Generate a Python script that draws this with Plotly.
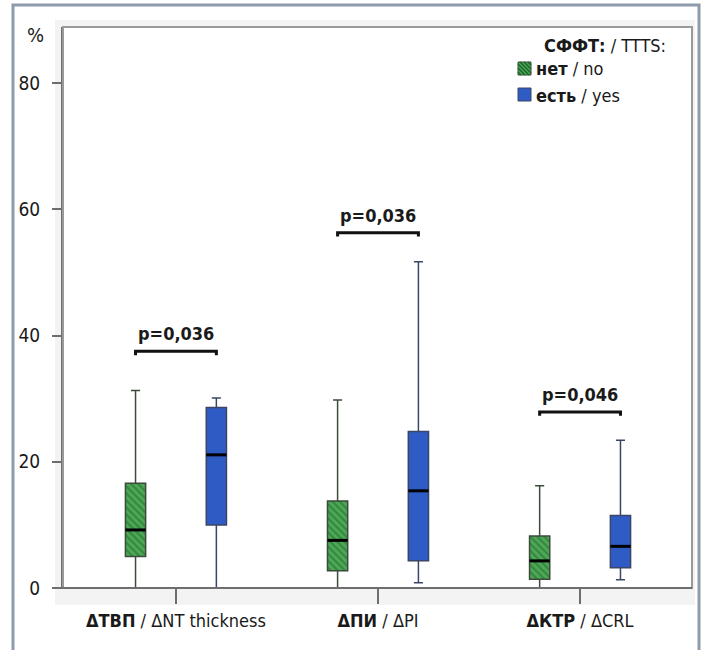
import plotly.graph_objects as go

# ---------------- data ----------------
categories = ["<b>ΔТВП</b> / ΔNT thickness", "<b>ΔПИ</b> / ΔPI", "<b>ΔКТР</b> / ΔCRL"]
cat_pos = [0, 1, 2]

green_lo = [0.0, 0.0, 0.0]
green_q1 = [5.0, 2.75, 1.4]
green_med = [9.2, 7.55, 4.3]
green_q3 = [16.6, 13.8, 8.25]
green_hi = [31.3, 29.8, 16.2]

blue_lo = [0.0, 0.85, 1.3]
blue_q1 = [10.0, 4.3, 3.2]
blue_med = [21.1, 15.4, 6.6]
blue_q3 = [28.6, 24.8, 11.5]
blue_hi = [30.1, 51.7, 23.4]

p_labels = ["p=0,036", "p=0,036", "p=0,046"]
bracket_y = [37.5, 56.3, 27.9]

y_ticks = [0, 20, 40, 60, 80]

legend_title = "<b>СФФТ:</b> / TTTS:"
legend_names = ["<b>нет</b> / no", "<b>есть</b> / yes"]

# ---------------- style ----------------
FONT = "DejaVu Sans Condensed, Liberation Sans Narrow, sans-serif"
GREEN = "#4ea957"
GREEN_DARK = "#1d6529"
BLUE = "#2f5cc4"
OFF = 0.2
BW = 0.1

xg = [c - OFF for c in cat_pos]
xb = [c + OFF for c in cat_pos]

fig = go.Figure()

# hatched green box bodies
fig.add_trace(go.Bar(
    x=xg, y=[q3 - q1 for q1, q3 in zip(green_q1, green_q3)], base=green_q1,
    width=BW, marker=dict(color=GREEN, line=dict(width=0),
                          pattern=dict(shape="\\", fgcolor=GREEN_DARK, size=5,
                                       solidity=0.45, fillmode="overlay")),
    showlegend=False, hoverinfo="skip"))

# boxes (outline + whiskers)
fig.add_trace(go.Box(
    x=xg, q1=green_q1, median=green_med, q3=green_q3,
    lowerfence=green_lo, upperfence=green_hi, width=BW, whiskerwidth=0.45,
    fillcolor="rgba(0,0,0,0)", line=dict(color="#3c4a3c", width=1.5),
    showlegend=False, boxpoints=False))
fig.add_trace(go.Box(
    x=xb, q1=blue_q1, median=blue_med, q3=blue_q3,
    lowerfence=blue_lo, upperfence=blue_hi, width=BW, whiskerwidth=0.45,
    fillcolor=BLUE, line=dict(color="#3b4666", width=1.5),
    showlegend=False, boxpoints=False))

# thick black median lines
mx, my = [], []
for xs, meds in ((xg, green_med), (xb, blue_med)):
    for x, m in zip(xs, meds):
        mx += [x - BW / 2, x + BW / 2, None]
        my += [m, m, None]
fig.add_trace(go.Scatter(x=mx, y=my, mode="lines",
                         line=dict(color="black", width=3), showlegend=False,
                         hoverinfo="skip"))

# significance brackets
bx, by = [], []
for x0, x1, yb in zip(xg, xb, bracket_y):
    bx += [x0, x0, x1, x1, None]
    by += [yb - 0.6, yb, yb, yb - 0.6, None]
fig.add_trace(go.Scatter(x=bx, y=by, mode="lines",
                         line=dict(color="#111111", width=3), showlegend=False,
                         hoverinfo="skip"))
for c, yb, t in zip(cat_pos, bracket_y, p_labels):
    fig.add_annotation(x=c, y=yb + 2.8, text=f"<b>{t}</b>", showarrow=False,
                       font=dict(family=FONT, size=18, color="#1a1a1a"),
                       xanchor="center", yanchor="middle")

# ---------------- layout geometry (pixels -> paper) ----------------
L, R, T, B = 63, 692, 27, 588
W, H = R - L, B - T


def px(xp):
    return (xp - L) / W


def py(yp):
    return (B - yp) / H


shapes = [
    dict(type="rect", xref="paper", yref="paper", x0=px(55), x1=px(695),
         y0=py(605), y1=py(20), fillcolor="#f3f3f3", line=dict(width=0),
         layer="below"),
    dict(type="rect", xref="paper", yref="paper", x0=0, x1=1, y0=0, y1=1,
         fillcolor="white", line=dict(width=0), layer="below"),
    dict(type="rect", xref="paper", yref="paper", x0=px(13), x1=px(699),
         y0=py(665), y1=py(5), line=dict(color="#8d9bab", width=3),
         layer="below"),
    dict(type="rect", xref="paper", yref="paper", x0=0, x1=1, y0=0, y1=1,
         line=dict(color="#9a9a9a", width=2), layer="above"),
    dict(type="line", xref="paper", yref="paper", x0=px(54), x1=1, y0=0, y1=0,
         line=dict(color="#6e6e6e", width=2), layer="above"),
]

# legend squares
sq = [(518, 531, 62, 75, GREEN), (518, 531, 88, 101, BLUE)]
for x0, x1, y0, y1, col in sq:
    shapes.append(dict(type="rect", xref="paper", yref="paper",
                       x0=px(x0), x1=px(x1), y0=py(y1), y1=py(y0),
                       fillcolor=col, line=dict(color="#3c4a3c" if col == GREEN else "#3b4666", width=1)))
# hatch on green legend square
x0, x1, y0, y1 = 518, 531, 62, 75
for k in range(-10, 14, 4):
    ax0, ay0 = x0 + k, y0
    ax1, ay1 = x0 + k + 13, y0 + 13
    if ax0 < x0:
        ay0 += x0 - ax0
        ax0 = x0
    if ax1 > x1:
        ay1 -= ax1 - x1
        ax1 = x1
    if ax1 - ax0 < 1:
        continue
    shapes.append(dict(type="line", xref="paper", yref="paper",
                       x0=px(ax0), x1=px(ax1), y0=py(ay0), y1=py(ay1),
                       line=dict(color=GREEN_DARK, width=1.5)))

annotations = [
    dict(xref="paper", yref="paper", x=px(542), y=py(45), text=legend_title,
         showarrow=False, xanchor="left", yanchor="middle",
         font=dict(family=FONT, size=18, color="#1a1a1a")),
    dict(xref="paper", yref="paper", x=px(534), y=py(69), text=legend_names[0],
         showarrow=False, xanchor="left", yanchor="middle",
         font=dict(family=FONT, size=18, color="#1a1a1a")),
    dict(xref="paper", yref="paper", x=px(534), y=py(95), text=legend_names[1],
         showarrow=False, xanchor="left", yanchor="middle",
         font=dict(family=FONT, size=18, color="#1a1a1a")),
    dict(xref="paper", yref="paper", x=px(35), y=py(35), text="%",
         showarrow=False, xanchor="center", yanchor="middle",
         font=dict(family=FONT, size=20, color="#1a1a1a")),
]

fig.update_layout(
    width=703, height=650,
    margin=dict(l=L, r=703 - R, t=T, b=650 - B, pad=0),
    paper_bgcolor="white", plot_bgcolor="rgba(0,0,0,0)",
    shapes=shapes,
    annotations=list(fig.layout.annotations) + annotations,
    showlegend=False,
    font=dict(family=FONT, size=18, color="#1a1a1a"),
    boxmode="overlay", barmode="overlay",
)
fig.update_xaxes(range=[-0.559, 2.554], tickvals=cat_pos, ticktext=categories,
                 ticks="outside", ticklen=15, tickwidth=2, tickcolor="#6e6e6e",
                 showgrid=False, zeroline=False, showline=False,
                 ticklabelstandoff=1,
                 tickfont=dict(family=FONT, size=18, color="#1a1a1a"))
fig.update_yaxes(range=[0, 88.9], tickvals=y_ticks,
                 ticks="outside", ticklen=9, tickwidth=2, tickcolor="#6e6e6e",
                 showgrid=False, zeroline=False, showline=True,
                 linecolor="#6e6e6e", linewidth=2, ticklabelstandoff=8,
                 tickfont=dict(family=FONT, size=19, color="#1a1a1a"))

fig.write_html("out.html", config={"displayModeBar": False},
               post_script="document.body.style.margin='0';document.body.style.overflow='hidden';")
